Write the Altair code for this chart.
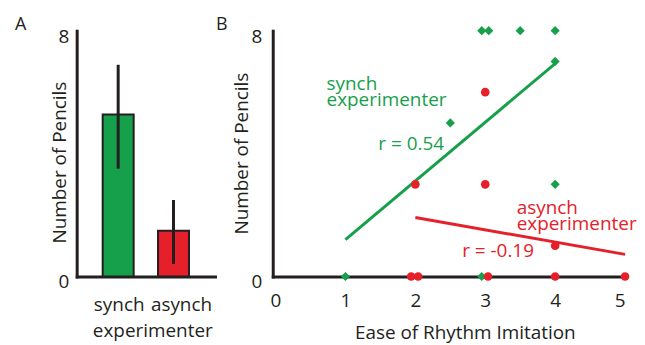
import altair as alt
import pandas as pd

FONT = "Open Sans"
INK = "#231f20"
GREEN = "#17a04c"
RED = "#e6202a"

# Panel A: bar means with error bars
cats = ["synch", "asynch"]
means = [5.27, 1.49]
err_lo = [3.51, 0.41]
err_hi = [6.89, 2.49]
bar_colors = [GREEN, RED]

# Panel B: scatter points
green_x = [1, 2.95, 2.5, 2.95, 3.05, 3.5, 4, 4, 4]
green_y = [0, 0, 5, 8, 8, 8, 8, 7, 3]
red_x = [3, 2, 3, 4, 1.94, 2.04, 3.04, 4, 5]
red_y = [6, 3, 3, 1, 0, 0, 0, 0, 0]

# fitted lines (endpoints)
green_line_x = [1, 4]
green_line_y = [1.2, 6.93]
red_line_x = [2, 5]
red_line_y = [1.92, 0.72]

# annotations
ann_text = [["synch", "experimenter"], ["r = 0.54"], ["asynch", "experimenter"], ["r = -0.19"]]
ann_x = [0.73, 1.47, 3.45, 2.67]
ann_y = [6.06, 4.11, 2.04, 0.65]
ann_color = [GREEN, GREEN, RED, RED]

H = 247
WA = 139
WB = 354

df_a = pd.DataFrame({"cat": cats, "mean": means, "lo": err_lo, "hi": err_hi, "color": bar_colors})

ya = alt.Y("mean:Q", scale=alt.Scale(domain=[0, 8], nice=False),
           axis=alt.Axis(values=[0, 8], ticks=False, grid=False, domainWidth=3, domainColor=INK,
                         domainCap="square", labelFontSize=19, labelPadding=8, labelOffset=5.5,
                         labelColor=INK, title="Number of Pencils", titleFontSize=19,
                         titleFontWeight="normal", titleColor=INK, titleX=-7, titleY=132))
xa = alt.X("cat:N", sort=cats, scale=alt.Scale(paddingInner=0.44, paddingOuter=0.47),
           axis=alt.Axis(labelAngle=0, ticks=False, domainWidth=3, domainColor=INK, domainCap="square",
                         labelFontSize=19, labelPadding=19,
                         labelOffset={"condition": {"test": "datum.value == 'asynch'", "value": 8},
                                      "value": 1},
                         labelColor=INK,
                         title="experimenter", titleFontSize=19, titleFontWeight="normal",
                         titleColor=INK, titleX=76, titleY=45))

bars = alt.Chart(df_a).mark_bar(stroke=INK, strokeWidth=2).encode(
    x=xa, y=ya, color=alt.Color("color:N", scale=None))
errs = alt.Chart(df_a).mark_rule(strokeWidth=3, color=INK).encode(
    x=alt.X("cat:N", sort=cats), y="lo:Q", y2="hi:Q")
lab_a = alt.Chart(pd.DataFrame({"t": ["A"]})).mark_text(
    align="left", baseline="alphabetic", fontSize=18, font=FONT, color=INK).encode(
    x=alt.value(-62), y=alt.value(-1), text="t:N")

panel_a = alt.layer(bars, errs, lab_a).properties(width=WA, height=H)

df_g = pd.DataFrame({"x": green_x, "y": green_y})
df_r = pd.DataFrame({"x": red_x, "y": red_y})
df_gl = pd.DataFrame({"x": green_line_x, "y": green_line_y})
df_rl = pd.DataFrame({"x": red_line_x, "y": red_line_y})
df_ann = pd.DataFrame({"x": ann_x, "y": ann_y, "t": ann_text, "c": ann_color})

xb = alt.X("x:Q", scale=alt.Scale(domain=[-0.04, 5], nice=False),
           axis=alt.Axis(values=[0, 1, 2, 3, 4, 5], format="d", ticks=False, grid=False, domainWidth=3,
                         domainColor=INK, domainCap="square", labelFontSize=19, labelPadding=15,
                         labelColor=INK, title="Ease of Rhythm Imitation", titleFontSize=19,
                         titleFontWeight="normal", titleColor=INK, titleX=193, titleY=47))
yb = alt.Y("y:Q", scale=alt.Scale(domain=[0, 8], nice=False),
           axis=alt.Axis(values=[0, 8], ticks=False, grid=False, domainWidth=3, domainColor=INK,
                         domainCap="square", labelFontSize=19, labelPadding=11, labelOffset=5.5,
                         labelColor=INK, title="Number of Pencils", titleFontSize=19,
                         titleFontWeight="normal", titleColor=INK, titleX=-21, titleY=123))

gline = alt.Chart(df_gl).mark_line(color=GREEN, strokeWidth=3).encode(x=xb, y=yb)
rline = alt.Chart(df_rl).mark_line(color=RED, strokeWidth=3).encode(x="x:Q", y="y:Q")
gpts = alt.Chart(df_g).mark_point(shape="diamond", filled=True, size=85, color=GREEN, opacity=1).encode(
    x="x:Q", y="y:Q")
rpts = alt.Chart(df_r).mark_circle(size=75, color=RED, opacity=1).encode(x="x:Q", y="y:Q")
ann = alt.Chart(df_ann).mark_text(align="left", baseline="alphabetic", fontSize=19, font=FONT,
                                  lineHeight=16).encode(
    x="x:Q", y="y:Q", text="t", color=alt.Color("c:N", scale=None))
lab_b = alt.Chart(pd.DataFrame({"t": ["B"]})).mark_text(
    align="left", baseline="alphabetic", fontSize=18, font=FONT, color=INK).encode(
    x=alt.value(-57), y=alt.value(-1), text="t:N")

panel_b = alt.layer(gline, rline, gpts, rpts, ann, lab_b).properties(width=WB, height=H)

chart = alt.hconcat(panel_a, panel_b, spacing=1).properties(
    padding={"left": 7, "top": 7, "right": 0, "bottom": 0}
).configure(font=FONT).configure_view(stroke=None).configure_text(font=FONT)

chart.save("out.html", embed_options={"renderer": "svg", "actions": False})
